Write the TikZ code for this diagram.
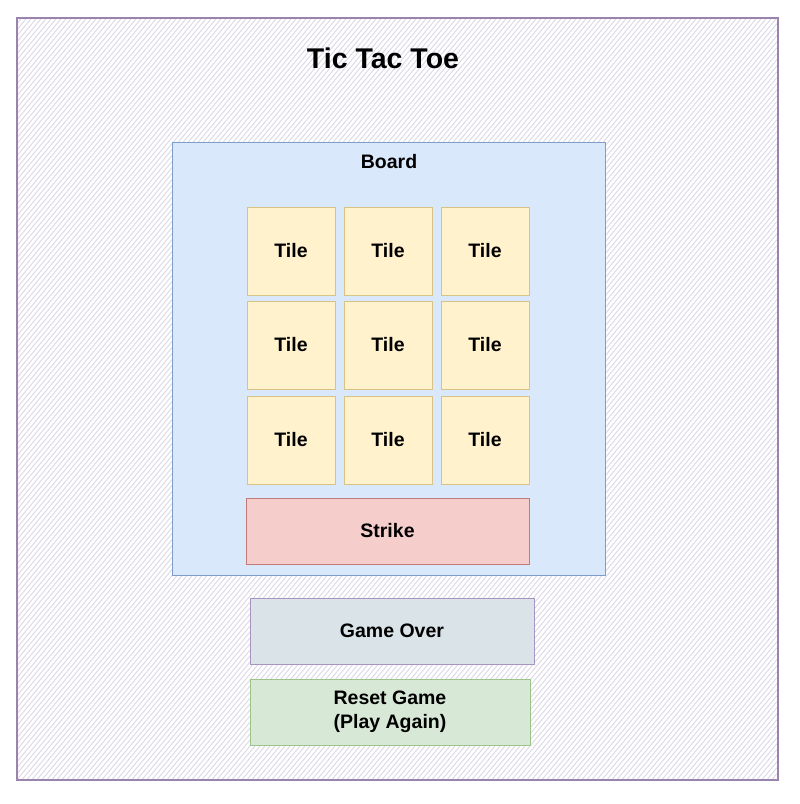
\documentclass[tikz,border=0pt]{standalone}
\usepackage{fontspec}
\setmainfont{Liberation Sans}
\definecolor{hatchc}{HTML}{DCD6E6}
\definecolor{framec}{HTML}{9A84AE}
\definecolor{boardfill}{HTML}{DAE8FC}
\definecolor{boardline}{HTML}{7F9DC9}
\definecolor{tilefill}{HTML}{FFF2CC}
\definecolor{tileline}{HTML}{D9C285}
\definecolor{strikefill}{HTML}{F5CECC}
\definecolor{strikeline}{HTML}{C07A78}
\definecolor{overfill}{HTML}{DAE3E8}
\definecolor{overline}{HTML}{A595C0}
\definecolor{resetfill}{HTML}{D8E8D6}
\definecolor{resetline}{HTML}{9CC48A}
\begin{document}
\begin{tikzpicture}[x=1pt,y=-1pt,
    box/.style={draw,line width=0.8pt,inner sep=0pt,font=\fontsize{19.5}{24}\selectfont\bfseries,align=center},
    tile/.style={box,fill=tilefill,draw=tileline,minimum width=88pt,minimum height=88pt},
    wide/.style={box,minimum width=284pt,minimum height=66pt}]
    \useasboundingbox (0,0) rectangle (800,804);
    % frame with pencil hatching
    \begin{scope}
        \clip (17,18) rectangle (778,780);
        \foreach \i in {-700,-695,...,800}
            \draw [hatchc,line width=0.9pt] (\i,800) -- ++(700,-840);
    \end{scope}
    \draw [framec,line width=1.2pt] (17,18) rectangle (778,780);
    \node (title) at (383,58) {\fontsize{28.5}{32}\selectfont\bfseries Tic Tac Toe};
    % board
    \node [draw=boardline,fill=boardfill,line width=0.8pt,minimum width=433pt,minimum height=433pt,inner sep=0pt] (board) at (388.5,358.5) {};
    \node [font=\fontsize{19.5}{24}\selectfont\bfseries] (boardlabel) at (389,162) {Board};
    \foreach \c/\x in {1/291,2/388,3/485}
        \foreach \r/\y in {1/251,2/345,3/440}
            \node [tile] (tile\r\c) at (\x,\y) {Tile};
    \node [wide,fill=strikefill,draw=strikeline,minimum width=283pt] (strike) at (387.5,531) {Strike};
    % below the board
    \node [wide,fill=overfill,draw=overline] (over) at (392,631) {Game Over};
    \node [wide,fill=resetfill,draw=resetline,minimum width=280pt] (reset) at (390,712) {Reset Game\\(Play Again)};
\end{tikzpicture}
\end{document}
